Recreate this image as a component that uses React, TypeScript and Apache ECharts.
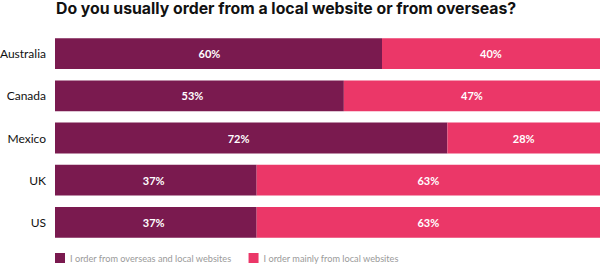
import React, { useEffect, useRef } from "react";
import * as echarts from "echarts";

const countries = ["Australia", "Canada", "Mexico", "UK", "US"];
const overseasAndLocal = [60, 53, 72, 37, 37];
const mainlyLocal = [40, 47, 28, 63, 63];
const seriesNames = [
  "I order from overseas and local websites",
  "I order mainly from local websites",
];
const titleText = "Do you usually order from a local website or from overseas?";

export default function App() {
  const ref = useRef<HTMLDivElement>(null);
  useEffect(() => {
    if (!ref.current) return;
    const chart = echarts.init(ref.current, undefined, { renderer: "svg" });
    const font = "Lato, 'Noto Sans', sans-serif";
    const labelStyle = {
      show: true,
      position: "inside",
      formatter: "{c}%",
      color: "#fff",
      fontFamily: font,
      fontWeight: 700,
      fontSize: 11,
    };
    chart.setOption({
      animation: false,
      textStyle: { fontFamily: font },
      title: {
        text: titleText,
        left: 56,
        top: 0.5,
        padding: 0,
        textStyle: { fontFamily: "Inter, sans-serif", fontSize: 15.8, fontWeight: 700, color: "#111" },
      },
      legend: {
        left: 50,
        top: 248,
        itemWidth: 10,
        itemHeight: 10,
        itemGap: 17,
        icon: "rect",
        textStyle: { fontFamily: font, fontSize: 9.2, color: "#9a9a9a" },
        data: seriesNames,
      },
      grid: {
        left: 55,
        right: 0,
        top: 32.5,
        bottom: 21.5,
        containLabel: false,
        outerBoundsMode: "none",
      },
      xAxis: {
        type: "value",
        min: 0,
        max: 100,
        show: false,
      },
      yAxis: {
        type: "category",
        inverse: true,
        data: countries,
        axisLine: { show: false },
        axisTick: { show: false },
        axisLabel: { fontFamily: font, fontSize: 12, color: "#111", margin: 9 },
      },
      series: [
        {
          name: seriesNames[0],
          type: "bar",
          stack: "total",
          barCategoryGap: "27%",
          data: overseasAndLocal,
          itemStyle: { color: "#7A1A4F" },
          label: labelStyle,
          labelLayout: (p: any) => ({ dx: -Math.max(0, p.rect.width - 163) * 0.055 }),
        },
        {
          name: seriesNames[1],
          type: "bar",
          stack: "total",
          barCategoryGap: "27%",
          data: mainlyLocal,
          itemStyle: { color: "#EB3768" },
          label: labelStyle,
        },
      ],
    });
    return () => chart.dispose();
  }, []);
  return (
    <div
      ref={ref}
      style={{ position: "absolute", left: 0, top: 0, width: 600, height: 265 }}
    />
  );
}
